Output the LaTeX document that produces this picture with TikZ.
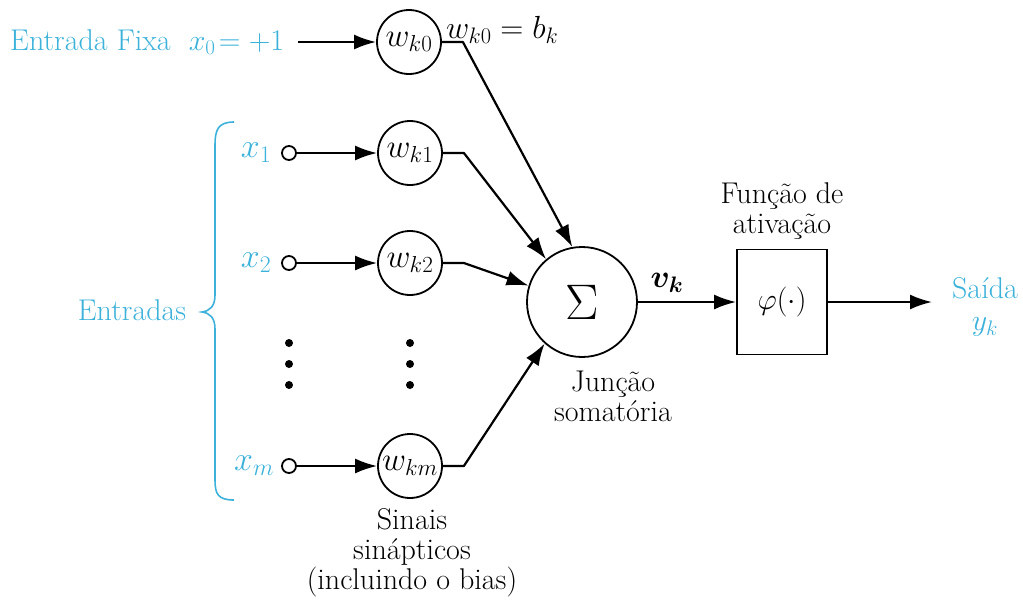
\RequirePackage{fix-cm}
\documentclass[tikz,border=0pt]{standalone}
\usepackage{amsmath}
\usetikzlibrary{arrows.meta}
\definecolor{cy}{RGB}{60,178,218}
\begin{document}
\begin{tikzpicture}[x=1pt,y=-1pt,
  every node/.style={font=\fontsize{30}{34}\selectfont},
  wc/.style={draw,circle,line width=1.8pt,minimum size=64pt,inner sep=0pt,font=\fontsize{33}{36}\selectfont},
  ic/.style={draw,circle,line width=1.8pt,minimum size=14pt,inner sep=0pt},
  xl/.style={cy,font=\fontsize{34}{36}\selectfont},
  arr/.style={line width=2.2pt,-{Latex[length=22pt,width=15pt]}},
  dotn/.style={circle,fill,minimum size=8pt,inner sep=0pt},
  lbl/.style={align=center,inner sep=0pt}]
\useasboundingbox (0,0) rectangle (1023,606);
% input labels
\node[cy,anchor=west,inner sep=0pt] (fix) at (10,42) {Entrada Fixa\ \ $x_0\!=+1$};
\coordinate (fixs) at (298,42);
\node[wc] (w0) at (409,42) {$w_{k0}$};
\node[anchor=west,inner sep=0pt,font=\fontsize{32}{34}\selectfont] (bk) at (446,30) {$w_{k0}=b_k$};
% inputs
\node[ic] (i1) at (289,153) {};
\node[ic] (i2) at (289,263) {};
\node[ic] (im) at (289,466) {};
\node[xl] (x1) at (256,153) {$x_1$};
\node[xl] (x2) at (256,263) {$x_2$};
\node[xl] (xm) at (254,466) {$x_m$};
\node[wc] (w1) at (410,153) {$w_{k1}$};
\node[wc] (w2) at (410,263) {$w_{k2}$};
\node[wc] (wm) at (410,466) {$w_{km}$};
% dots
\foreach \y [count=\i] in {343,364,385}{
  \node[dotn] (da\i) at (289,\y) {};
  \node[dotn] (db\i) at (410,\y) {};
}
% brace
\draw[cy,line width=1.6pt] (234,122) .. controls (218,122) and (215,130) .. (215,145)
  -- (215,295) .. controls (215,306) and (210,311) .. (202,312)
  .. controls (210,313) and (215,318) .. (215,329)
  -- (215,480) .. controls (215,494) and (218,500) .. (234,500);
\node[cy] (ent) at (132,310) {Entradas};
% summing junction
\node[draw,circle,line width=1.8pt,minimum size=110pt,inner sep=0pt] (s) at (582,302) {\fontsize{50}{54}\selectfont$\Sigma$};
\node[lbl] (jl) at (613,396) {Junção\\[-4pt]somatória};
% activation
\node[draw,line width=1.8pt,minimum width=90pt,minimum height=105pt,inner sep=0pt] (phi) at (782,302) {$\varphi(\cdot)$};
\node[lbl] (fl) at (782,211) {Função de\\[-4pt]ativação};
\node[font=\fontsize{32}{34}\selectfont] (vk) at (667,283) {$\boldsymbol{v_k}$};
\coordinate (out) at (932,302);
\node[cy,lbl] (sd) at (985,307) {Saída\\[-2pt]$y_k$};
\node[lbl] (sin) at (412,553) {Sinais\\[-4pt]sinápticos\\[-4pt](incluindo o bias)};
% connectors
\draw[arr] (fixs) -- (w0.west);
\draw[arr] (i1.east) -- (w1.west);
\draw[arr] (i2.east) -- (w2.west);
\draw[arr] (im.east) -- (wm.west);
\draw[arr,line join=round] (w0.east) -- ++(21,0) -- (s.100);
\draw[arr,line join=round] (w1.east) -- ++(21,0) -- (s.130);
\draw[arr,line join=round] (w2.east) -- ++(21,0) -- (s.163);
\draw[arr,line join=round] (wm.east) -- ++(21,0) -- (s.228);
\draw[arr] (s.east) -- (phi.west);
\draw[arr] (phi.east) -- (out);
\end{tikzpicture}
\end{document}
